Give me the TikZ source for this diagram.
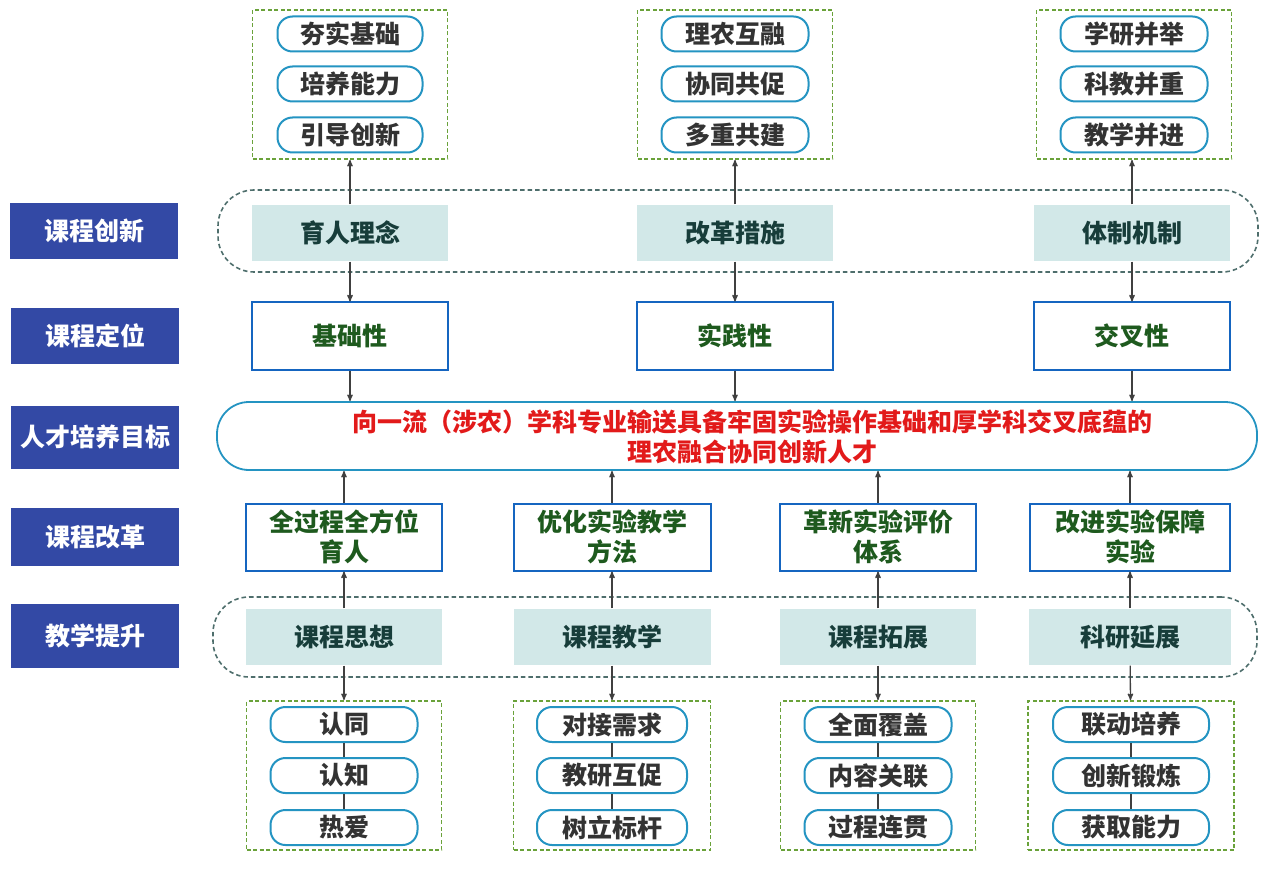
\documentclass[tikz,border=0pt]{standalone}
\usepackage{fontspec}
\setmainfont{Noto Sans CJK SC}
\usetikzlibrary{arrows}

\definecolor{labblue}{HTML}{3349A5}
\definecolor{tealfill}{HTML}{D2E8E8}
\definecolor{tealtext}{HTML}{173D3A}
\definecolor{dashgray}{HTML}{4E6E6C}
\definecolor{grpgreen}{HTML}{6AA23A}
\definecolor{pillblue}{HTML}{2494C2}
\definecolor{rowblue}{HTML}{1565C0}
\definecolor{txtgreen}{HTML}{1E5A1E}
\definecolor{aimred}{HTML}{E21A1A}
\definecolor{arrgray}{HTML}{404040}

\begin{document}
\begin{tikzpicture}[x=1pt,y=-1pt,->,>=stealth',line width=1.3pt,draw=arrgray]
  \tikzset{every node/.style={font=\fontsize{25}{30}\selectfont\bfseries,inner sep=0pt,align=center}}
  \tikzset{every edge/.style={draw=arrgray,line width=1.3pt}}
  \tikzset{lab/.style={fill=labblue,text=white,minimum width=168pt,minimum height=56pt}}
  \tikzset{region/.style={draw=dashgray,dash pattern=on 4.5pt off 3pt,line width=1.6pt,rounded corners=36pt}}
  \tikzset{idea/.style={fill=tealfill,text=tealtext,minimum width=196pt,minimum height=56pt}}
  \tikzset{goal/.style={draw=rowblue,line width=2pt,fill=white,text=txtgreen,minimum width=196pt,minimum height=67pt}}
  \tikzset{grp/.style={draw=grpgreen,dash pattern=on 4pt off 2.5pt,line width=1.8pt,minimum width=195pt,minimum height=149pt}}
  \tikzset{pill/.style={draw=pillblue,line width=2pt,fill=white,text=black!80,rounded corners=15pt,minimum width=147pt,minimum height=35pt}}

  \useasboundingbox (0,0) rectangle (1268,882);

  % side labels
  \node[lab] (inn) at (94,231) {课程创新};
  \node[lab] (pos) at (95,336) {课程定位};
  \node[lab,minimum height=63pt] (aim) at (95,437) {人才培养目标};
  \node[lab,minimum height=58pt] (ref) at (95,537) {课程改革};
  \node[lab,minimum height=64pt] (tea) at (95,636) {教学提升};

  % dashed bands
  \node[region,minimum width=1040pt,minimum height=82pt] (band1) at (738,231) {};
  \node[region,minimum width=1044pt,minimum height=80pt] (band2) at (735,637) {};

  % top groups
  \node[grp] (g1) at (350,84.5) {};
  \node[grp] (g2) at (735,84.5) {};
  \node[grp] (g3) at (1134,84.5) {};
  \node[pill,minimum width=145pt] (p11) at (350,34) {夯实基础};
  \node[pill,minimum width=145pt] (p12) at (350,84) {培养能力};
  \node[pill,minimum width=145pt] (p13) at (350,135) {引导创新};
  \node[pill] (p21) at (735,34) {理农互融};
  \node[pill] (p22) at (735,84) {协同共促};
  \node[pill] (p23) at (735,135) {多重共建};
  \node[pill] (p31) at (1134,34) {学研并举};
  \node[pill] (p32) at (1134,84) {科教并重};
  \node[pill] (p33) at (1134,135) {教学并进};

  % innovation row
  \node[idea] (yr) at (350,233) {育人理念};
  \node[idea] (gg) at (735,233) {改革措施};
  \node[idea] (tz) at (1132,233) {体制机制};

  % positioning row
  \node[goal] (jc) at (350,336) {基础性};
  \node[goal] (sj) at (735,336) {实践性};
  \node[goal] (jx) at (1132,336) {交叉性};

  % aim
  \node[draw=pillblue,line width=1.8pt,rounded corners=32pt,minimum width=1040pt,minimum height=68pt] (aimbox) at (737,436) {};
  \node[text=aimred] (aimtxt) at (752,437) {向一流（涉农）学科专业输送具备牢固实验操作基础和厚学科交叉底蕴的\\理农融合协同创新人才};

  % reform row
  \node[goal] (r1) at (344,537) {全过程全方位\\育人};
  \node[goal,minimum width=197pt] (r2) at (612,537) {优化实验教学\\方法};
  \node[goal] (r3) at (878,537) {革新实验评价\\体系};
  \node[goal,minimum width=200pt] (r4) at (1130,537) {改进实验保障\\实验};

  % teaching row
  \node[idea] (ks) at (344,637) {课程思想};
  \node[idea,minimum width=197pt] (kj) at (612,637) {课程教学};
  \node[idea] (kt) at (878,637) {课程拓展};
  \node[idea,minimum width=202pt] (ky) at (1130,637) {科研延展};

  % bottom groups
  \node[grp] (b1) at (344,775.5) {};
  \node[grp,minimum width=197pt] (b2) at (612,775.5) {};
  \node[grp] (b3) at (878,775.5) {};
  \node[grp,minimum width=206pt] (b4) at (1131,775.5) {};
  \node[pill] (q11) at (344,724.5) {认同};
  \node[pill] (q12) at (344,775.5) {认知};
  \node[pill] (q13) at (344,827.5) {热爱};
  \node[pill,minimum width=150pt] (q21) at (612,724.5) {对接需求};
  \node[pill,minimum width=150pt] (q22) at (612,775.5) {教研互促};
  \node[pill,minimum width=150pt] (q23) at (612,827.5) {树立标杆};
  \node[pill] (q31) at (878,724.5) {全面覆盖};
  \node[pill] (q32) at (878,775.5) {内容关联};
  \node[pill] (q33) at (878,827.5) {过程连贯};
  \node[pill,minimum width=156pt] (q41) at (1131,724.5) {联动培养};
  \node[pill,minimum width=156pt] (q42) at (1131,775.5) {创新锻炼};
  \node[pill,minimum width=156pt] (q43) at (1131,827.5) {获取能力};

  % arrows
  \path (yr) edge (g1)
        (gg) edge (g2)
        (tz) edge (tz |- g3.south)
        (yr) edge (jc)
        (gg) edge (sj)
        (tz) edge (jx)
        (jc) edge (jc |- aimbox.north)
        (sj) edge (sj |- aimbox.north)
        (jx) edge (jx |- aimbox.north);

  \path (r1) edge (r1 |- aimbox.south)
        (r2) edge (r2 |- aimbox.south)
        (r3) edge (r3 |- aimbox.south)
        (r4) edge (r4 |- aimbox.south)
        (ks) edge (r1)
        (kj) edge (r2)
        (kt) edge (r3)
        (ky) edge (r4)
        (ks) edge (b1)
        (kj) edge (b2)
        (kt) edge (b3)
        (ky) edge (b4);

  \draw[-] (q11) -- (q12) (q12) -- (q13)
           (q21) -- (q22) (q22) -- (q23)
           (q31) -- (q32) (q32) -- (q33)
           (q41) -- (q42) (q42) -- (q43);
\end{tikzpicture}
\end{document}
